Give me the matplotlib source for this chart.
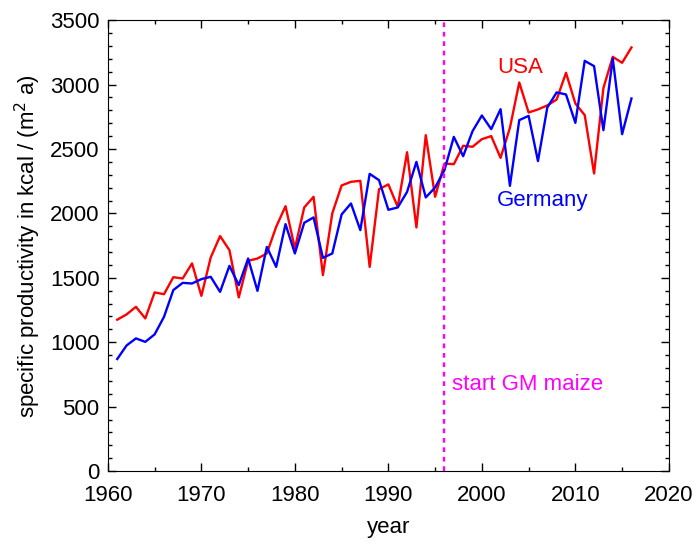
import matplotlib
matplotlib.use('Agg')

import matplotlib.pyplot as plt
from matplotlib.ticker import MultipleLocator

# yearly values
years = list(range(1961, 2017))

usa = [1175, 1216, 1275, 1185, 1387, 1373, 1505, 1495, 1612, 1360,
       1658, 1824, 1715, 1348, 1632, 1650, 1689, 1896, 2056, 1728,
       2046, 2129, 1521, 2000, 2217, 2245, 2253, 1585, 2188, 2225,
       2051, 2475, 1891, 2607, 2129, 2387, 2382, 2525, 2517, 2576,
       2600, 2431, 2664, 3016, 2783, 2807, 2838, 2884, 3091, 2853,
       2763, 2310, 2973, 3215, 3169, 3288]

germany = [870, 975, 1030, 1003, 1061, 1197, 1405, 1461, 1456, 1490,
           1508, 1391, 1593, 1443, 1650, 1399, 1740, 1585, 1917, 1689,
           1927, 1969, 1655, 1689, 1992, 2077, 1870, 2307, 2258, 2028,
           2046, 2167, 2400, 2124, 2201, 2336, 2594, 2444, 2638, 2760,
           2654, 2809, 2214, 2724, 2757, 2406, 2822, 2939, 2923, 2703,
           3184, 3143, 2646, 3202, 2615, 2892]

gm_start = 1996

plt.rcParams['font.family'] = ['Liberation Sans', 'DejaVu Sans']
fs = 16

fig = plt.figure(figsize=(6.96, 5.44), dpi=100)
ax = fig.add_axes([0.155, 0.134, 0.806, 0.829])

ax.plot(years, usa, color='#ff0000', linewidth=1.7)
ax.plot(years, germany, color='#0000ff', linewidth=1.7)
ax.axvline(gm_start, color='#ff00ff', linestyle=(0, (2, 2)), linewidth=1.7)

ax.text(2004.1, 3130, 'USA', color='#ff0000', fontsize=fs, ha='center', va='center')
ax.text(2006.5, 2100, 'Germany', color='#0000ff', fontsize=fs, ha='center', va='center')
ax.text(1996.8, 670, 'start GM maize', color='#ff00ff', fontsize=fs, ha='left', va='center')

ax.set_xlim(1960, 2020)
ax.set_ylim(0, 3500)
ax.xaxis.set_major_locator(MultipleLocator(10))
ax.xaxis.set_minor_locator(MultipleLocator(5))
ax.yaxis.set_major_locator(MultipleLocator(500))
ax.yaxis.set_minor_locator(MultipleLocator(100))
ax.tick_params(which='both', direction='in', top=True, right=True, labelsize=fs)
ax.tick_params(which='major', length=6, width=1)
ax.tick_params(which='minor', length=3, width=1)
ax.tick_params(axis='x', pad=10)
ax.tick_params(axis='y', pad=6)

ax.set_xlabel('year', fontsize=fs, labelpad=8)
ax.set_ylabel('specific productivity in kcal / (m$^2$ a)', fontsize=fs, labelpad=5)

fig.savefig('out.png', dpi=100)
